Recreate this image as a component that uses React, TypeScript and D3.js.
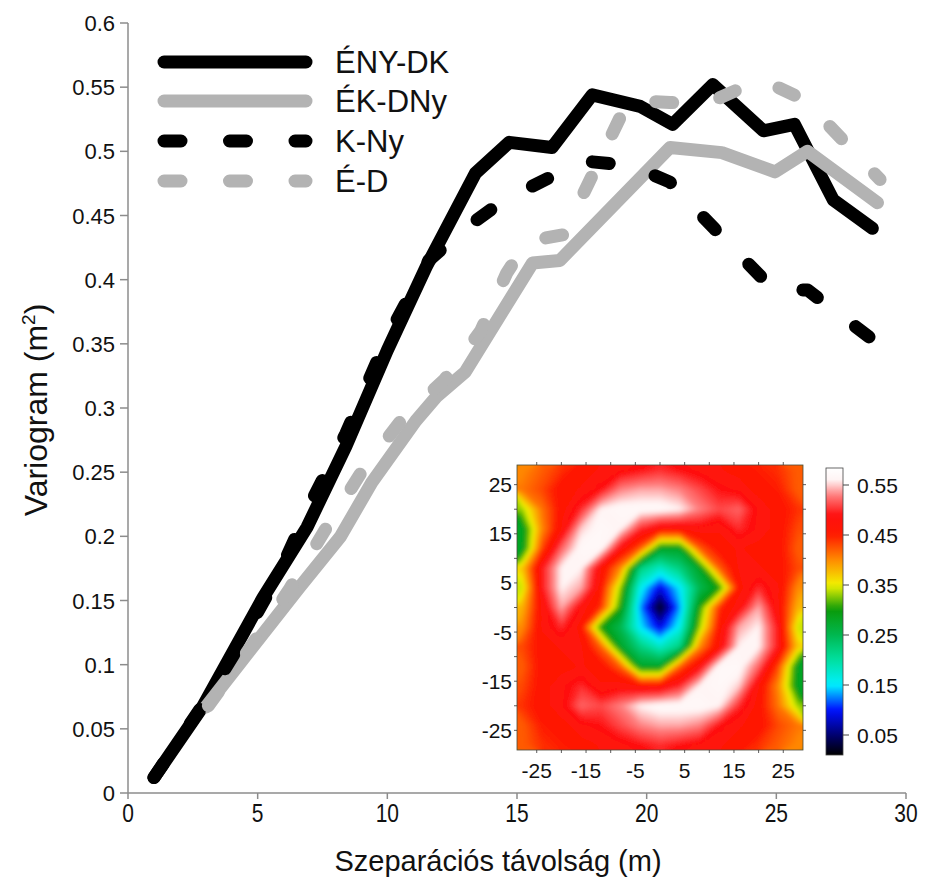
import React from "react";
import * as d3 from "d3";

// ---------- Main variogram data ----------
const seriesNames = ["ÉNY-DK", "ÉK-DNy", "K-Ny", "É-D"];

const enyDkX = [1.0, 2.9, 5.2, 6.9, 8.4, 10.0, 11.5, 13.4, 14.7, 16.35, 17.9, 19.75, 21.0, 22.55, 24.5, 25.7, 27.2, 28.7];
const enyDkY = [0.012, 0.068, 0.152, 0.207, 0.27, 0.345, 0.41, 0.483, 0.507, 0.503, 0.544, 0.535, 0.521, 0.552, 0.516, 0.521, 0.462, 0.44];

const ekDnyX = [3.0, 4.7, 6.6, 8.2, 9.4, 11.1, 11.9, 13.0, 15.6, 16.65, 20.9, 22.9, 24.95, 26.2, 28.9];
const ekDnyY = [0.067, 0.111, 0.16, 0.2, 0.242, 0.29, 0.309, 0.328, 0.413, 0.415, 0.503, 0.499, 0.484, 0.5, 0.46];

const kNyX = [1.0, 2.8, 4.2, 5.8, 7.2, 8.4, 10.0, 11.6, 13.0, 14.5, 16.3, 17.8, 19.4, 20.9, 22.6, 24.9, 26.2, 28.6];
const kNyY = [0.012, 0.066, 0.112, 0.17, 0.232, 0.28, 0.355, 0.415, 0.44, 0.462, 0.48, 0.492, 0.489, 0.476, 0.44, 0.392, 0.392, 0.355];

const eDX = [3.1, 4.6, 6.2, 7.6, 9.0, 10.6, 12.2, 13.6, 14.6, 15.4, 16.8, 19.3, 20.9, 22.4, 24.4, 26.1, 29.0];
const eDY = [0.068, 0.11, 0.158, 0.205, 0.25, 0.292, 0.322, 0.36, 0.405, 0.43, 0.435, 0.54, 0.538, 0.538, 0.556, 0.54, 0.478];

const xTicks = [0, 5, 10, 15, 20, 25, 30];
const yTicks = [0, 0.05, 0.1, 0.15, 0.2, 0.25, 0.3, 0.35, 0.4, 0.45, 0.5, 0.55, 0.6];
const yTickLabels = ["0", "0.05", "0.1", "0.15", "0.2", "0.25", "0.3", "0.35", "0.4", "0.45", "0.5", "0.55", "0.6"];

// ---------- Inset variogram map data (rows top→bottom, columns left→right) ----------
const mapXs = [-28, -24, -20, -16, -12, -8, -4, 0, 4, 8, 12, 16, 20, 24, 28];
const mapYs = [28, 24, 20, 16, 12, 8, 4, 0, -4, -8, -12, -16, -20, -24, -28];
const mapRow28 = [0.40, 0.42, 0.44, 0.46, 0.47, 0.48, 0.49, 0.50, 0.49, 0.48, 0.47, 0.46, 0.45, 0.44, 0.42];
const mapRow24 = [0.41, 0.43, 0.46, 0.47, 0.49, 0.53, 0.54, 0.54, 0.53, 0.51, 0.49, 0.48, 0.46, 0.45, 0.42];
const mapRow20 = [0.33, 0.41, 0.46, 0.50, 0.56, 0.57, 0.57, 0.57, 0.56, 0.53, 0.51, 0.52, 0.48, 0.46, 0.44];
const mapRow16 = [0.28, 0.40, 0.47, 0.55, 0.57, 0.56, 0.50, 0.47, 0.47, 0.48, 0.47, 0.50, 0.48, 0.46, 0.43];
const mapRow12 = [0.28, 0.43, 0.52, 0.57, 0.57, 0.48, 0.42, 0.28, 0.28, 0.42, 0.46, 0.47, 0.46, 0.46, 0.42];
const mapRow8 = [0.37, 0.49, 0.56, 0.56, 0.47, 0.40, 0.22, 0.18, 0.22, 0.28, 0.42, 0.47, 0.47, 0.46, 0.43];
const mapRow4 = [0.34, 0.49, 0.56, 0.54, 0.46, 0.33, 0.16, 0.09, 0.15, 0.25, 0.30, 0.46, 0.50, 0.47, 0.40];
const mapRow0 = [0.38, 0.47, 0.54, 0.48, 0.44, 0.30, 0.13, 0.02, 0.13, 0.30, 0.44, 0.48, 0.54, 0.47, 0.38];
const mapRowM4 = [0.40, 0.47, 0.50, 0.46, 0.30, 0.25, 0.15, 0.09, 0.16, 0.33, 0.46, 0.54, 0.56, 0.49, 0.34];
const mapRowM8 = [0.43, 0.46, 0.47, 0.47, 0.42, 0.28, 0.22, 0.18, 0.22, 0.40, 0.47, 0.56, 0.56, 0.49, 0.37];
const mapRowM12 = [0.42, 0.46, 0.46, 0.47, 0.46, 0.42, 0.28, 0.28, 0.42, 0.48, 0.57, 0.57, 0.52, 0.43, 0.28];
const mapRowM16 = [0.43, 0.46, 0.48, 0.50, 0.47, 0.48, 0.47, 0.47, 0.50, 0.56, 0.57, 0.55, 0.47, 0.40, 0.28];
const mapRowM20 = [0.44, 0.46, 0.48, 0.52, 0.51, 0.53, 0.56, 0.57, 0.57, 0.57, 0.56, 0.50, 0.46, 0.41, 0.33];
const mapRowM24 = [0.42, 0.45, 0.46, 0.48, 0.49, 0.51, 0.53, 0.54, 0.54, 0.53, 0.49, 0.47, 0.46, 0.43, 0.41];
const mapRowM28 = [0.42, 0.44, 0.45, 0.46, 0.47, 0.48, 0.49, 0.50, 0.49, 0.48, 0.47, 0.46, 0.44, 0.42, 0.40];
const mapRows = [mapRow28, mapRow24, mapRow20, mapRow16, mapRow12, mapRow8, mapRow4, mapRow0,
  mapRowM4, mapRowM8, mapRowM12, mapRowM16, mapRowM20, mapRowM24, mapRowM28];

const mapTicks = [-25, -20, -15, -10, -5, 0, 5, 10, 15, 20, 25];
const mapTickLabels = [-25, -15, -5, 5, 15, 25];
const cbTicks = [0.05, 0.15, 0.25, 0.35, 0.45, 0.55];
const cbStopValues = [0.01, 0.05, 0.1, 0.15, 0.2, 0.25, 0.3, 0.35, 0.4, 0.45, 0.49, 0.53, 0.56, 0.585];
const cbStopColors = ["#000000", "#000070", "#0010ff", "#00f0ff", "#00e0a0", "#00b850", "#0a9a0a", "#f2f200",
  "#ff8c00", "#ff1a00", "#ff1010", "#ff8080", "#fff4f4", "#ffffff"];

const FONT = "'Liberation Sans', Arial, Helvetica, sans-serif";

export default function App() {
  // main scales
  const x = d3.scaleLinear().domain([0, 30]).range([128, 906]);
  const y = d3.scaleLinear().domain([0, 0.6]).range([793, 23]);
  const axisColor = "#8c8c8c";

  const series = [
    { xs: enyDkX, ys: enyDkY, color: "#000000", dash: undefined as string | undefined },
    { xs: ekDnyX, ys: ekDnyY, color: "#b3b3b3", dash: undefined },
    { xs: kNyX, ys: kNyY, color: "#000000", dash: "17 48" },
    { xs: eDX, ys: eDY, color: "#b3b3b3", dash: "17 48" },
  ];
  const line = d3.line<[number, number]>().x((d) => x(d[0])).y((d) => y(d[1]));

  // inset scales
  const hx = d3.scaleLinear().domain([-29, 29]).range([517, 803]);
  const hy = d3.scaleLinear().domain([-29, 29]).range([750, 465]);
  const color = d3.scaleLinear<string>().domain(cbStopValues).range(cbStopColors).clamp(true);

  const n = mapXs.length;
  const m = mapYs.length;
  const flat: number[] = [];
  mapRows.forEach((r) => r.forEach((v) => flat.push(v)));
  const thresholds = d3.range(0, 0.6, 0.004);
  const contours = d3.contours().size([n, m]).smooth(true).thresholds(thresholds)(flat);
  const x0 = mapXs[0] - 2;
  const y0 = mapYs[0] + 2;
  const step = 4;
  const proj = d3.geoTransform({
    point(px: number, py: number) {
      (this as any).stream.point(hx(x0 + px * step), hy(y0 - py * step));
    },
  });
  const geoPath = d3.geoPath(proj);

  const cb = d3.scaleLinear().domain([0.01, 0.584]).range([755, 468]);
  const gradStops = d3.range(0, 1.0001, 0.02).map((t) => {
    const v = 0.01 + t * (0.584 - 0.01);
    return { off: t, c: color(v) };
  });

  return (
    <svg width={935} height={888} style={{ position: "absolute", left: 0, top: 0, background: "#fff" }}
      fontFamily={FONT}>
      <defs>
        <clipPath id="heatClip">
          <rect x={hx(-29)} y={hy(29)} width={hx(29) - hx(-29)} height={hy(-29) - hy(29)} />
        </clipPath>
        <filter id="soft" x="-5%" y="-5%" width="110%" height="110%">
          <feGaussianBlur stdDeviation={2.2} />
        </filter>
        <linearGradient id="cbGrad" x1="0" y1="1" x2="0" y2="0">
          {gradStops.map((s, i) => (
            <stop key={i} offset={s.off} stopColor={s.c} />
          ))}
        </linearGradient>
      </defs>

      {/* Axes */}
      <line x1={x(0)} x2={x(30)} y1={y(0)} y2={y(0)} stroke={axisColor} strokeWidth={1.5} />
      <line x1={x(0)} x2={x(0)} y1={y(0)} y2={y(0.6)} stroke={axisColor} strokeWidth={1.5} />
      {xTicks.map((t) => (
        <g key={"xt" + t}>
          <line x1={x(t)} x2={x(t)} y1={y(0)} y2={y(0) + 6} stroke={axisColor} strokeWidth={1.5} />
          <text transform={`translate(${x(t)},822) scale(0.84,1)`} textAnchor="middle" fontSize={25} fill="#111">{t}</text>
        </g>
      ))}
      {yTicks.map((t, i) => (
        <g key={"yt" + i}>
          <line x1={x(0) - 8} x2={x(0)} y1={y(t)} y2={y(t)} stroke={axisColor} strokeWidth={1.5} />
          <text x={115} y={y(t) + 8} textAnchor="end" fontSize={22} fill="#111">{yTickLabels[i]}</text>
        </g>
      ))}
      <text x={498} y={871} textAnchor="middle" fontSize={29} fill="#111">Szeparációs távolság (m)</text>
      <text transform="translate(47,410) rotate(-90)" textAnchor="middle" fontSize={32} fill="#111">
        Variogram (m<tspan fontSize={19} dy={-12}>2</tspan><tspan dy={12}>)</tspan>
      </text>

      {/* Series */}
      {series.map((s, i) => (
        <path key={"s" + i}
          d={line(s.xs.map((v, j) => [v, s.ys[j]] as [number, number])) || ""}
          fill="none" stroke={s.color} strokeWidth={13} strokeLinecap="round" strokeLinejoin="round"
          strokeDasharray={s.dash} />
      ))}

      {/* Legend */}
      {series.map((s, i) => {
        const ly = [62, 101, 141, 181][i];
        return (
          <g key={"lg" + i}>
            <line x1={164} x2={306} y1={ly} y2={ly} stroke={s.color} strokeWidth={13}
              strokeLinecap="round" strokeDasharray={s.dash ? "17 48.5" : undefined} />
            <text x={335} y={ly + 11} fontSize={31} fill="#111">{seriesNames[i]}</text>
          </g>
        );
      })}

      {/* Inset heatmap */}
      <rect x={hx(-29)} y={hy(29)} width={hx(29) - hx(-29)} height={hy(-29) - hy(29)} fill="#fff" />
      <g clipPath="url(#heatClip)">
        <g filter="url(#soft)">
          <rect x={hx(-31)} y={hy(31)} width={hx(31) - hx(-31)} height={hy(-31) - hy(31)} fill={color(0.3)} />
          {contours.map((c, i) => (
            <path key={"c" + i} d={geoPath(c as any) || ""} fill={color(c.value + 0.002)} stroke="none" />
          ))}
        </g>
      </g>
      <rect x={hx(-29)} y={hy(29)} width={hx(29) - hx(-29)} height={hy(-29) - hy(29)} fill="none"
        stroke="#4a4a3a" strokeWidth={0.8} />
      {mapTicks.map((t) => (
        <g key={"mt" + t} stroke="#333" strokeWidth={0.8}>
          <line x1={hx(t)} x2={hx(t)} y1={hy(29)} y2={hy(29) - 3} />
          <line x1={hx(t)} x2={hx(t)} y1={hy(-29)} y2={hy(-29) + 3} />
          <line x1={hx(-29)} x2={hx(-29) - 3} y1={hy(t)} y2={hy(t)} />
          <line x1={hx(29)} x2={hx(29) + 3} y1={hy(t)} y2={hy(t)} />
        </g>
      ))}
      {mapTickLabels.map((t) => (
        <g key={"ml" + t}>
          <text x={512} y={hy(t) + 7.5} textAnchor="end" fontSize={21} fill="#111">{t}</text>
          <text x={hx(t)} y={778} textAnchor="middle" fontSize={21} fill="#111">{t}</text>
        </g>
      ))}

      {/* Colorbar */}
      <rect x={826} y={468} width={17} height={287} fill="url(#cbGrad)" stroke="#444" strokeWidth={0.8} />
      {cbTicks.map((t) => (
        <g key={"cb" + t}>
          <line x1={843} x2={849} y1={cb(t)} y2={cb(t)} stroke="#444" strokeWidth={1} />
          <text x={857} y={cb(t) + 7.5} fontSize={21} fill="#111">{t.toFixed(2)}</text>
        </g>
      ))}
    </svg>
  );
}
